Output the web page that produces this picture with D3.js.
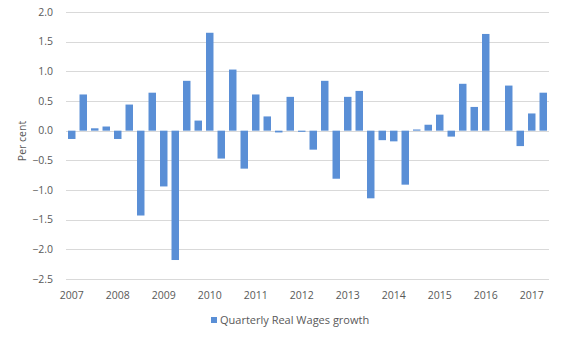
<!DOCTYPE html>
<html>
<head>
<meta charset="utf-8">
<script src="https://cdn.jsdelivr.net/npm/d3@7"></script>
<style>
  body { margin: 0; background: #fff; }
  text { font-family: "Open Sans", sans-serif; fill: #595959; }
</style>
</head>
<body>
<svg id="chart"></svg>
<script>
// quarterly real wages growth, 2007 Q1 .. 2017 Q2
var years = ['2007','2008','2009','2010','2011','2012','2013','2014','2015','2016','2017'];
var quarters = ['Q1','Q2','Q3','Q4'];
var growth = [
	-0.14, 0.61, 0.04, 0.07,
	-0.14, 0.44, -1.43, 0.64,
	-0.94, -2.18, 0.84, 0.17,
	1.65, -0.47, 1.03, -0.64,
	0.61, 0.24, -0.03, 0.57,
	-0.02, -0.32, 0.84, -0.81,
	0.57, 0.67, -1.14, -0.16,
	-0.18, -0.91, 0.02, 0.10,
	0.27, -0.10, 0.79, 0.40,
	1.63, 0.00, 0.76, -0.26,
	0.29, 0.64
];
var yTicks = [2.0, 1.5, 1.0, 0.5, 0.0, -0.5, -1.0, -1.5, -2.0, -2.5];
var seriesName = 'Quarterly Real Wages growth';

var w = 567, h = 340;
var margin = {top: 12, right: 18, bottom: 61, left: 66};

var periods = [];
for (var i = 0; i < growth.length; i++) {
	periods.push(years[Math.floor(i/4)] + ' ' + quarters[i%4]);
}

var svg = d3.select('#chart').attr('width', w).attr('height', h);

var x = d3.scaleBand()
	.domain(periods)
	.range([margin.left, w - margin.right])
	.paddingInner(0.35)
	.paddingOuter(0.175);

var y = d3.scaleLinear()
	.domain([-2.5, 2.0])
	.range([h - margin.bottom, margin.top]);

// grid
svg.append('g')
	.selectAll('line')
	.data(yTicks)
	.join('line')
	.attr('x1', margin.left)
	.attr('x2', w - margin.right)
	.attr('y1', function(d) {return Math.round(y(d)) + 0.5;})
	.attr('y2', function(d) {return Math.round(y(d)) + 0.5;})
	.attr('stroke', '#d9d9d9')
	.attr('stroke-width', 1);

// y labels
svg.append('g')
	.selectAll('text')
	.data(yTicks)
	.join('text')
	.attr('x', margin.left - 13)
	.attr('y', function(d) {return y(d);})
	.attr('dy', '0.35em')
	.attr('text-anchor', 'end')
	.attr('font-size', '10.5px')
	.text(function(d) {return d3.format('.1f')(d);});

// bars
svg.append('g')
	.selectAll('rect')
	.data(growth)
	.join('rect')
	.attr('x', function(d, i) {return x(periods[i]);})
	.attr('width', x.bandwidth())
	.attr('y', function(d) {return y(Math.max(0, d));})
	.attr('height', function(d) {return Math.abs(y(d) - y(0));})
	.attr('fill', '#5a8fd6');

// x labels, one per year at Q1
svg.append('g')
	.selectAll('text')
	.data(years)
	.join('text')
	.attr('x', function(d) {return x(d + ' Q1') + x.bandwidth()/2;})
	.attr('y', 299)
	.attr('text-anchor', 'middle')
	.attr('font-size', '10.5px')
	.text(function(d) {return d;});

// axis title
svg.append('text')
	.attr('transform', 'translate(26,141) rotate(-90)')
	.attr('text-anchor', 'middle')
	.attr('font-size', '10.5px')
	.text('Per cent');

// legend
var legend = svg.append('g').attr('transform', 'translate(211,317)');
legend.append('rect')
	.attr('width', 6)
	.attr('height', 6)
	.attr('fill', '#5a8fd6');
legend.append('text')
	.attr('x', 9)
	.attr('y', 3)
	.attr('dy', '0.35em')
	.attr('font-size', '11px')
	.text(seriesName);
</script>
</body>
</html>
